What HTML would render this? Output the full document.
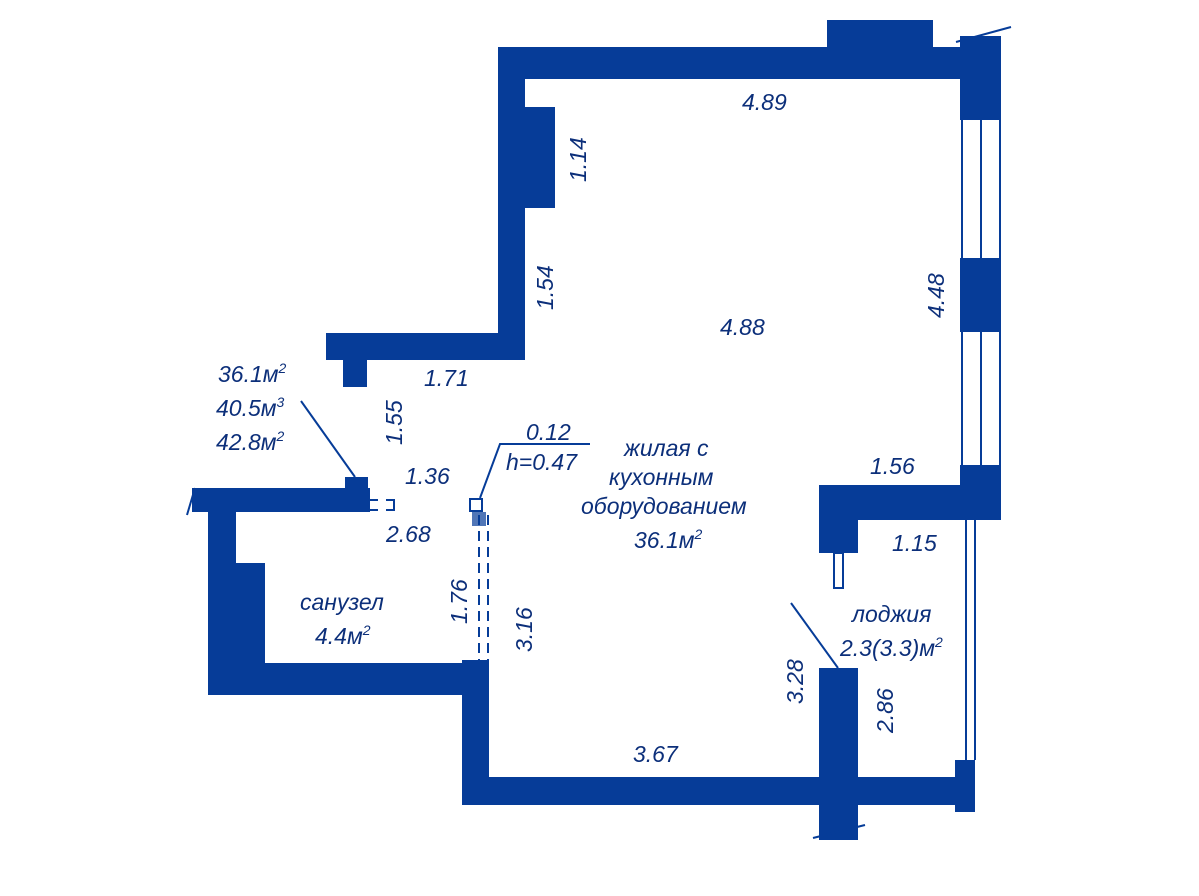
<!DOCTYPE html>
<html><head><meta charset="utf-8"><style>
html,body{margin:0;padding:0;background:#fff;}
svg{display:block}
text{font-family:"Liberation Sans",sans-serif;font-style:italic;fill:#0c2f7a;font-size:23px}
</style></head><body>
<svg width="1199" height="896" viewBox="0 0 1199 896" xmlns="http://www.w3.org/2000/svg">
<g fill="#063c98">
<rect x="498" y="47" width="463" height="32"/>
<rect x="827" y="20" width="106" height="28"/>
<rect x="960" y="36" width="41" height="84"/>
<rect x="498" y="47" width="27" height="313"/>
<rect x="525" y="107" width="30" height="101"/>
<rect x="326" y="333" width="199" height="27"/>
<rect x="343" y="358" width="24" height="29"/>
<rect x="960" y="258" width="41" height="74"/>
<rect x="960" y="465" width="41" height="55"/>
<rect x="819" y="485" width="182" height="35"/>
<rect x="819" y="518" width="39" height="35"/>
<rect x="192" y="488" width="178" height="24"/>
<rect x="345" y="477" width="23" height="35"/>
<rect x="208" y="488" width="28" height="207"/>
<rect x="208" y="563" width="57" height="132"/>
<rect x="208" y="663" width="281" height="32"/>
<rect x="462" y="660" width="27" height="145"/>
<rect x="462" y="777" width="493" height="28"/>
<rect x="819" y="668" width="39" height="172"/>
<rect x="955" y="760" width="20" height="52"/>
</g>
<g stroke="#063c98" fill="none" stroke-width="2">
<line x1="962" y1="120" x2="962" y2="258"/><line x1="981" y1="120" x2="981" y2="258"/><line x1="1000" y1="120" x2="1000" y2="258"/>
<line x1="962" y1="332" x2="962" y2="465"/><line x1="981" y1="332" x2="981" y2="465"/><line x1="1000" y1="332" x2="1000" y2="465"/>
<line x1="966" y1="520" x2="966" y2="760"/><line x1="975" y1="520" x2="975" y2="760"/>
<line x1="956" y1="42" x2="1011" y2="27"/>
<line x1="187" y1="515" x2="195" y2="488"/>
<line x1="813" y1="838" x2="865" y2="825"/>
<rect x="834" y="553" width="9" height="35"/>
<line x1="301" y1="401" x2="355" y2="477"/>
<line x1="791" y1="603" x2="838" y2="668"/>
<polyline points="480,498 500,444 590,444"/>
<rect x="470" y="499" width="12" height="12"/>
<line x1="479" y1="515" x2="479" y2="660" stroke-dasharray="10,6"/>
<line x1="488" y1="515" x2="488" y2="660" stroke-dasharray="10,6"/>
<polyline points="370,500 378,500"/><polyline points="386,500 394,500 394,510 386,510"/><polyline points="370,510 378,510"/>
</g>
<g fill="#063c98"><rect x="472" y="512" width="14" height="14" opacity="0.7"/></g>
<text x="742" y="110">4.89</text>
<text x="720" y="335">4.88</text>
<text x="424" y="386">1.71</text>
<text x="405" y="484">1.36</text>
<text x="386" y="542">2.68</text>
<text x="870" y="474">1.56</text>
<text x="892" y="551">1.15</text>
<text x="633" y="762">3.67</text>
<text x="218" y="382">36.1м<tspan dy="-9" font-size="14">2</tspan></text>
<text x="216" y="416">40.5м<tspan dy="-9" font-size="14">3</tspan></text>
<text x="216" y="450">42.8м<tspan dy="-9" font-size="14">2</tspan></text>
<text x="526" y="440">0.12</text>
<text x="506" y="470">h=0.47</text>
<text x="624" y="456">жилая с</text>
<text x="609" y="485">кухонным</text>
<text x="581" y="514">оборудованием</text>
<text x="634" y="548">36.1м<tspan dy="-9" font-size="14">2</tspan></text>
<text x="300" y="610">санузел</text>
<text x="315" y="644">4.4м<tspan dy="-9" font-size="14">2</tspan></text>
<text x="852" y="622">лоджия</text>
<text x="840" y="656">2.3(3.3)м<tspan dy="-9" font-size="14">2</tspan></text>
<text transform="translate(586,182) rotate(-90)">1.14</text>
<text transform="translate(553,310) rotate(-90)">1.54</text>
<text transform="translate(402,445) rotate(-90)">1.55</text>
<text transform="translate(944,318) rotate(-90)">4.48</text>
<text transform="translate(467,624) rotate(-90)">1.76</text>
<text transform="translate(532,652) rotate(-90)">3.16</text>
<text transform="translate(803,704) rotate(-90)">3.28</text>
<text transform="translate(893,733) rotate(-90)">2.86</text>
</svg>
</body></html>
